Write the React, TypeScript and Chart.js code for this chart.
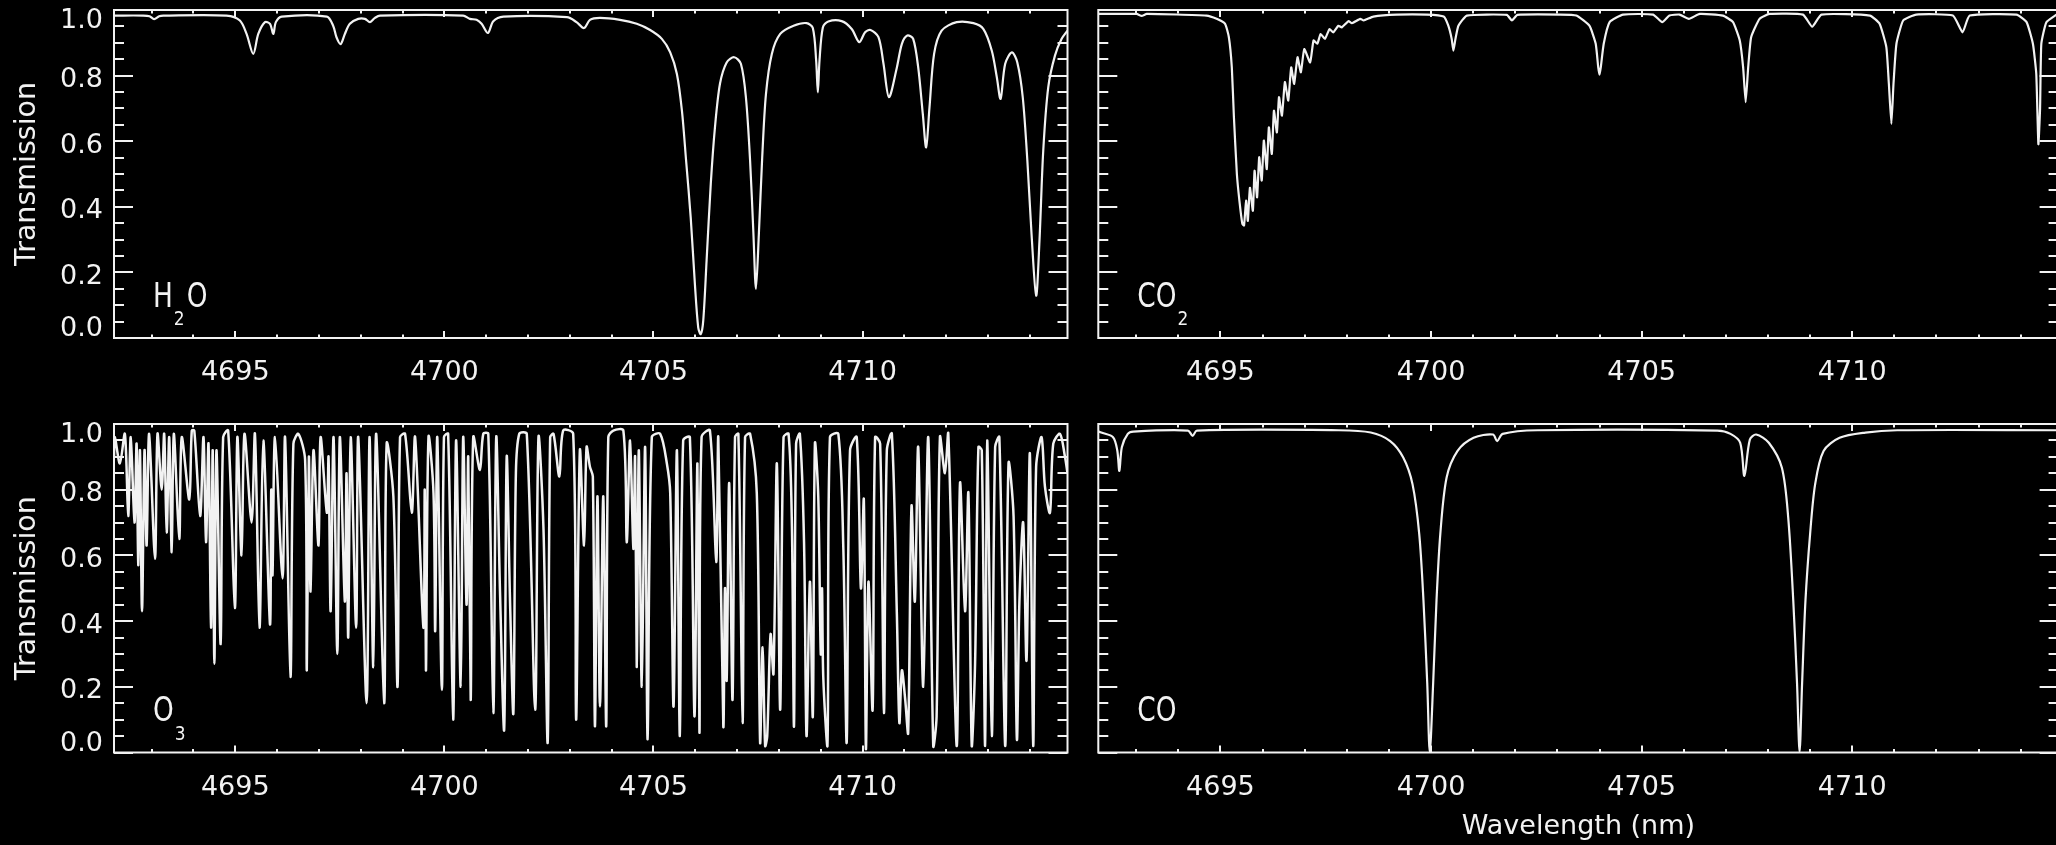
import React, { useEffect, useRef } from 'react';
import { Chart, registerables } from 'chart.js';

Chart.register(...registerables);

// ---------------- data ----------------
const X_TICKS = [4695, 4700, 4705, 4710];
const Y_TICKS = [0, 0.2, 0.4, 0.6, 0.8, 1.0];
const Y_TICK_LABELS = ['0.0', '0.2', '0.4', '0.6', '0.8', '1.0'];

const H2O_WL = [4692.10, 4692.80, 4692.95, 4693.06, 4693.18, 4693.28, 4694.79, 4695.11, 4695.27, 4695.43, 4695.55, 4695.71, 4695.83, 4695.91, 4695.97, 4696.11, 4697.19, 4697.34, 4697.42, 4697.52, 4697.62, 4697.74, 4697.94, 4698.10, 4698.22, 4698.34, 4698.46, 4700.45, 4700.61, 4700.77, 4700.89, 4701.04, 4701.17, 4701.41, 4702.93, 4703.16, 4703.34, 4703.48, 4703.72, 4704.20, 4704.60, 4704.92, 4705.20, 4705.40, 4705.56, 4705.68, 4705.78, 4705.89, 4705.99, 4706.07, 4706.13, 4706.19, 4706.27, 4706.37, 4706.47, 4706.59, 4706.75, 4706.93, 4707.09, 4707.21, 4707.31, 4707.39, 4707.45, 4707.52, 4707.60, 4707.69, 4707.83, 4708.03, 4708.35, 4708.66, 4708.81, 4708.89, 4708.93, 4708.97, 4709.05, 4709.18, 4709.50, 4709.74, 4709.92, 4710.06, 4710.19, 4710.38, 4710.50, 4710.63, 4710.82, 4710.94, 4711.07, 4711.21, 4711.33, 4711.44, 4711.52, 4711.60, 4711.71, 4711.89, 4712.25, 4712.65, 4712.89, 4713.09, 4713.21, 4713.30, 4713.41, 4713.57, 4713.70, 4713.83, 4713.94, 4714.04, 4714.15, 4714.23, 4714.32, 4714.44, 4714.60, 4714.76, 4714.90];
const H2O_T = [0.983, 0.983, 0.981, 0.972, 0.981, 0.983, 0.983, 0.968, 0.927, 0.866, 0.927, 0.963, 0.958, 0.927, 0.963, 0.980, 0.980, 0.952, 0.917, 0.896, 0.927, 0.958, 0.973, 0.973, 0.963, 0.976, 0.983, 0.983, 0.973, 0.970, 0.958, 0.930, 0.966, 0.980, 0.978, 0.963, 0.945, 0.970, 0.976, 0.970, 0.958, 0.939, 0.912, 0.871, 0.805, 0.693, 0.541, 0.368, 0.165, 0.032, 0.012, 0.053, 0.236, 0.470, 0.642, 0.775, 0.840, 0.856, 0.836, 0.734, 0.541, 0.317, 0.150, 0.317, 0.551, 0.744, 0.866, 0.927, 0.952, 0.960, 0.945, 0.846, 0.749, 0.846, 0.947, 0.965, 0.966, 0.942, 0.902, 0.932, 0.939, 0.917, 0.836, 0.734, 0.825, 0.897, 0.922, 0.912, 0.825, 0.683, 0.581, 0.703, 0.866, 0.937, 0.963, 0.960, 0.942, 0.876, 0.795, 0.729, 0.836, 0.871, 0.840, 0.734, 0.541, 0.317, 0.129, 0.297, 0.571, 0.765, 0.861, 0.912, 0.937];

const CO2_WL = [4692.10, 4693.01, 4693.13, 4693.25, 4694.67, 4694.91, 4695.11, 4695.20, 4695.27, 4695.32, 4695.39, 4695.45, 4695.52, 4695.56, 4695.61, 4695.65, 4695.70, 4695.77, 4695.81, 4695.87, 4695.92, 4695.98, 4696.03, 4696.10, 4696.15, 4696.22, 4696.27, 4696.34, 4696.39, 4696.46, 4696.53, 4696.61, 4696.68, 4696.75, 4696.83, 4696.91, 4696.99, 4697.13, 4697.21, 4697.30, 4697.38, 4697.48, 4697.59, 4697.68, 4697.80, 4697.88, 4698.04, 4698.12, 4698.32, 4698.40, 4698.63, 4699.19, 4699.90, 4700.30, 4700.41, 4700.49, 4700.53, 4700.58, 4700.65, 4700.85, 4701.80, 4701.92, 4702.05, 4703.07, 4703.45, 4703.76, 4703.91, 4703.97, 4704.00, 4704.03, 4704.10, 4704.24, 4704.56, 4705.27, 4705.49, 4705.66, 4705.90, 4706.12, 4706.38, 4706.93, 4707.17, 4707.33, 4707.41, 4707.47, 4707.53, 4707.60, 4707.80, 4708.04, 4708.83, 4709.05, 4709.27, 4710.42, 4710.65, 4710.81, 4710.87, 4710.93, 4710.98, 4711.05, 4711.21, 4711.52, 4712.39, 4712.62, 4712.79, 4713.90, 4714.14, 4714.29, 4714.37, 4714.42, 4714.46, 4714.49, 4714.61, 4714.85];
const CO2_T = [0.988, 0.988, 0.982, 0.988, 0.983, 0.973, 0.958, 0.917, 0.825, 0.673, 0.500, 0.419, 0.348, 0.343, 0.419, 0.357, 0.458, 0.388, 0.510, 0.429, 0.551, 0.480, 0.602, 0.515, 0.642, 0.561, 0.693, 0.627, 0.734, 0.678, 0.780, 0.724, 0.825, 0.775, 0.856, 0.810, 0.881, 0.840, 0.907, 0.897, 0.927, 0.912, 0.942, 0.932, 0.952, 0.947, 0.966, 0.960, 0.973, 0.968, 0.980, 0.986, 0.986, 0.980, 0.952, 0.912, 0.876, 0.912, 0.952, 0.983, 0.985, 0.968, 0.985, 0.986, 0.983, 0.952, 0.897, 0.825, 0.803, 0.825, 0.897, 0.963, 0.986, 0.986, 0.963, 0.983, 0.986, 0.973, 0.988, 0.983, 0.963, 0.907, 0.825, 0.719, 0.825, 0.917, 0.973, 0.988, 0.986, 0.949, 0.986, 0.983, 0.958, 0.887, 0.775, 0.653, 0.775, 0.897, 0.968, 0.986, 0.983, 0.932, 0.983, 0.986, 0.963, 0.897, 0.805, 0.591, 0.700, 0.897, 0.963, 0.986];

const O3_WL = [4692.10, 4692.12, 4692.24, 4692.36, 4692.44, 4692.50, 4692.59, 4692.64, 4692.68, 4692.72, 4692.77, 4692.83, 4692.88, 4692.94, 4693.08, 4693.14, 4693.24, 4693.30, 4693.36, 4693.42, 4693.48, 4693.53, 4693.66, 4693.72, 4693.90, 4693.96, 4694.02, 4694.16, 4694.24, 4694.30, 4694.36, 4694.42, 4694.46, 4694.50, 4694.55, 4694.65, 4694.71, 4694.83, 4694.99, 4695.05, 4695.15, 4695.22, 4695.39, 4695.47, 4695.58, 4695.67, 4695.83, 4695.86, 4695.89, 4695.95, 4696.13, 4696.19, 4696.32, 4696.39, 4696.51, 4696.67, 4696.71, 4696.76, 4696.80, 4696.87, 4696.99, 4697.04, 4697.19, 4697.23, 4697.28, 4697.35, 4697.44, 4697.50, 4697.62, 4697.66, 4697.70, 4697.76, 4697.89, 4697.94, 4698.14, 4698.21, 4698.30, 4698.37, 4698.56, 4698.62, 4698.78, 4698.88, 4698.94, 4699.06, 4699.22, 4699.30, 4699.50, 4699.53, 4699.56, 4699.62, 4699.74, 4699.78, 4699.83, 4699.94, 4699.99, 4700.09, 4700.21, 4700.28, 4700.39, 4700.45, 4700.53, 4700.57, 4700.63, 4700.69, 4700.85, 4700.93, 4701.05, 4701.17, 4701.24, 4701.33, 4701.43, 4701.49, 4701.57, 4701.65, 4701.71, 4701.79, 4701.97, 4702.17, 4702.25, 4702.37, 4702.47, 4702.53, 4702.61, 4702.75, 4702.84, 4703.08, 4703.15, 4703.24, 4703.34, 4703.40, 4703.48, 4703.55, 4703.60, 4703.66, 4703.72, 4703.80, 4703.87, 4703.92, 4704.04, 4704.28, 4704.36, 4704.44, 4704.52, 4704.56, 4704.60, 4704.65, 4704.72, 4704.80, 4704.86, 4704.96, 4705.16, 4705.32, 4705.40, 4705.48, 4705.56, 4705.63, 4705.71, 4705.87, 4705.98, 4706.05, 4706.10, 4706.15, 4706.35, 4706.50, 4706.55, 4706.67, 4706.71, 4706.75, 4706.81, 4706.89, 4706.95, 4707.03, 4707.13, 4707.19, 4707.31, 4707.47, 4707.55, 4707.61, 4707.67, 4707.72, 4707.80, 4707.87, 4707.95, 4708.03, 4708.11, 4708.23, 4708.31, 4708.36, 4708.41, 4708.50, 4708.60, 4708.66, 4708.74, 4708.81, 4708.86, 4708.94, 4709.00, 4709.03, 4709.06, 4709.16, 4709.22, 4709.42, 4709.54, 4709.62, 4709.70, 4709.86, 4709.96, 4710.03, 4710.08, 4710.14, 4710.24, 4710.30, 4710.42, 4710.51, 4710.58, 4710.70, 4710.82, 4710.88, 4710.94, 4711.02, 4711.09, 4711.17, 4711.25, 4711.33, 4711.45, 4711.57, 4711.69, 4711.77, 4711.85, 4711.97, 4712.05, 4712.25, 4712.33, 4712.45, 4712.53, 4712.61, 4712.69, 4712.77, 4712.85, 4712.93, 4712.98, 4713.09, 4713.17, 4713.27, 4713.41, 4713.49, 4713.61, 4713.69, 4713.75, 4713.84, 4713.92, 4714.00, 4714.08, 4714.15, 4714.28, 4714.36, 4714.48, 4714.56, 4714.72, 4714.84, 4714.90];
const O3_T = [0.90, 0.96, 0.88, 0.97, 0.72, 0.96, 0.70, 0.94, 0.57, 0.92, 0.43, 0.92, 0.63, 0.97, 0.59, 0.97, 0.80, 0.97, 0.67, 0.96, 0.61, 0.97, 0.65, 0.96, 0.77, 0.98, 0.98, 0.72, 0.96, 0.64, 0.94, 0.38, 0.92, 0.27, 0.92, 0.33, 0.96, 0.98, 0.44, 0.96, 0.60, 0.97, 0.70, 0.97, 0.38, 0.95, 0.39, 0.80, 0.54, 0.96, 0.53, 0.96, 0.23, 0.94, 0.97, 0.89, 0.25, 0.90, 0.49, 0.92, 0.63, 0.96, 0.73, 0.90, 0.43, 0.96, 0.30, 0.96, 0.46, 0.85, 0.35, 0.96, 0.38, 0.96, 0.15, 0.96, 0.26, 0.97, 0.15, 0.94, 0.78, 0.20, 0.96, 0.97, 0.73, 0.96, 0.38, 0.80, 0.25, 0.96, 0.79, 0.37, 0.96, 0.19, 0.96, 0.97, 0.10, 0.95, 0.20, 0.96, 0.45, 0.90, 0.16, 0.96, 0.86, 0.97, 0.97, 0.12, 0.96, 0.49, 0.07, 0.90, 0.46, 0.12, 0.85, 0.97, 0.97, 0.13, 0.96, 0.68, 0.03, 0.96, 0.97, 0.84, 0.98, 0.97, 0.10, 0.92, 0.63, 0.93, 0.87, 0.84, 0.08, 0.78, 0.14, 0.78, 0.08, 0.96, 0.98, 0.98, 0.64, 0.95, 0.62, 0.90, 0.26, 0.92, 0.20, 0.93, 0.04, 0.96, 0.97, 0.88, 0.79, 0.14, 0.92, 0.05, 0.95, 0.96, 0.11, 0.88, 0.06, 0.96, 0.98, 0.58, 0.96, 0.08, 0.50, 0.22, 0.82, 0.16, 0.96, 0.97, 0.09, 0.96, 0.97, 0.79, 0.03, 0.32, 0.02, 0.05, 0.36, 0.24, 0.88, 0.13, 0.96, 0.97, 0.69, 0.08, 0.94, 0.97, 0.64, 0.05, 0.52, 0.11, 0.94, 0.78, 0.30, 0.50, 0.23, 0.02, 0.96, 0.97, 0.62, 0.03, 0.92, 0.96, 0.50, 0.77, 0.01, 0.52, 0.13, 0.96, 0.94, 0.12, 0.92, 0.97, 0.42, 0.09, 0.25, 0.16, 0.06, 0.75, 0.46, 0.93, 0.20, 0.96, 0.02, 0.11, 0.96, 0.85, 0.97, 0.02, 0.82, 0.43, 0.79, 0.02, 0.27, 0.93, 0.92, 0.02, 0.95, 0.05, 0.93, 0.96, 0.02, 0.88, 0.72, 0.04, 0.46, 0.70, 0.28, 0.91, 0.02, 0.87, 0.96, 0.81, 0.73, 0.94, 0.97, 0.90, 0.85];

const CO_WL = [4692.10, 4692.17, 4692.45, 4692.55, 4692.60, 4692.66, 4692.80, 4692.93, 4694.23, 4694.34, 4694.44, 4697.81, 4698.57, 4699.03, 4699.34, 4699.56, 4699.72, 4699.82, 4699.91, 4699.97, 4700.05, 4700.13, 4700.22, 4700.37, 4700.63, 4701.01, 4701.47, 4701.57, 4701.70, 4702.53, 4706.80, 4707.11, 4707.34, 4707.44, 4707.57, 4707.72, 4708.02, 4708.33, 4708.48, 4708.60, 4708.69, 4708.75, 4708.81, 4708.89, 4709.00, 4709.12, 4709.32, 4709.70, 4710.31, 4711.07, 4714.90];
const CO_T = [0.978, 0.974, 0.960, 0.920, 0.857, 0.930, 0.970, 0.977, 0.980, 0.964, 0.980, 0.981, 0.974, 0.948, 0.898, 0.817, 0.665, 0.463, 0.210, 0.002, 0.210, 0.463, 0.665, 0.837, 0.918, 0.958, 0.968, 0.948, 0.970, 0.981, 0.980, 0.970, 0.943, 0.842, 0.953, 0.968, 0.943, 0.867, 0.716, 0.463, 0.210, 0.002, 0.210, 0.463, 0.665, 0.817, 0.918, 0.958, 0.974, 0.981, 0.981];

// ---------------- styling ----------------
const FG = '#f2f2f2';
const FONT = "'DejaVu Sans', 'Liberation Sans', sans-serif";
const X_MIN = 4692.1;
const X_MAX = 4714.9;

type Seg = { t: string; sub?: boolean };

const framePlugin = {
  id: 'idlFrame',
  afterDatasetsDraw(chart: any, _args: any, opts: any) {
    const { ctx, chartArea: a } = chart;
    const xs = chart.scales.x;
    const ys = chart.scales.y;
    ctx.save();
    ctx.strokeStyle = FG;
    ctx.fillStyle = FG;
    ctx.lineWidth = 2;
    ctx.strokeRect(a.left, a.top, a.right - a.left, a.bottom - a.top);
    ctx.beginPath();
    for (let v = Math.ceil(xs.min); v <= Math.floor(xs.max); v++) {
      const px = Math.round(xs.getPixelForValue(v));
      const len = v % 5 === 0 ? 7 : 3.5;
      ctx.moveTo(px, a.bottom);
      ctx.lineTo(px, a.bottom - len);
      ctx.moveTo(px, a.top);
      ctx.lineTo(px, a.top + len);
    }
    for (let i = 0; i <= 20; i++) {
      const py = Math.round(ys.getPixelForValue(i / 20));
      const len = i % 4 === 0 ? 19 : 10;
      ctx.moveTo(a.left, py);
      ctx.lineTo(a.left + len, py);
      ctx.moveTo(a.right, py);
      ctx.lineTo(a.right - len, py);
    }
    ctx.stroke();

    if (opts.yLabels) {
      ctx.font = `27px ${FONT}`;
      ctx.textAlign = 'right';
      ctx.textBaseline = 'middle';
      Y_TICKS.forEach((v, i) => {
        const py = ys.getPixelForValue(v);
        const shift = v >= 1 ? 11 : v <= 0 ? -9 : 4.5;
        ctx.fillText(Y_TICK_LABELS[i], a.left - 11, py + shift);
      });
    }

    const segs: Seg[] = opts.label || [];
    let cx = a.left + 39;
    const base = a.bottom - 31.5;
    ctx.textAlign = 'left';
    ctx.textBaseline = 'alphabetic';
    for (const s of segs) {
      const size = s.sub ? 20 : 33;
      ctx.font = `${size}px ${FONT}`;
      const sx = s.sub ? 0.85 : 0.8;
      const w = ctx.measureText(s.t).width * sx;
      if (s.sub) cx += 1;
      ctx.save();
      ctx.translate(cx, s.sub ? base + 18.5 : base);
      ctx.scale(sx, 1);
      ctx.fillText(s.t, 0, 0);
      ctx.restore();
      cx += w + (s.sub ? 2 : 0);
    }
    ctx.restore();
  },
};

type Panel = {
  wl: number[];
  tr: number[];
  label: Seg[];
  left: number;
  top: number;
  w: number;
  h: number;
  pad: { left: number; right: number; top: number; bottom: number };
  xh: number;
  showY: boolean;
  xTitle: boolean;
  lw: number;
  tension: number;
};

const PANELS: Panel[] = [
  { wl: H2O_WL, tr: H2O_T, label: [{ t: 'H' }, { t: '2', sub: true }, { t: 'O' }], left: 0, top: 0, w: 1080, h: 410, pad: { left: 0, right: 12.5, top: 10, bottom: 0 }, xh: 72, showY: true, xTitle: false, lw: 2.2, tension: 0.3 },
  { wl: CO2_WL, tr: CO2_T, label: [{ t: 'CO' }, { t: '2', sub: true }], left: 1080, top: 0, w: 990, h: 410, pad: { left: 18.3, right: 11.4, top: 10, bottom: 0 }, xh: 72, showY: false, xTitle: false, lw: 2.2, tension: 0.15 },
  { wl: O3_WL, tr: O3_T, label: [{ t: 'O' }, { t: '3', sub: true }], left: 0, top: 414, w: 1080, h: 431, pad: { left: 0, right: 12.5, top: 10, bottom: 0 }, xh: 92.5, showY: true, xTitle: false, lw: 2.5, tension: 0.3 },
  { wl: CO_WL, tr: CO_T, label: [{ t: 'CO' }], left: 1080, top: 414, w: 990, h: 431, pad: { left: 18.3, right: 11.4, top: 10, bottom: 0 }, xh: 92.5, showY: false, xTitle: true, lw: 2.2, tension: 0.3 },
];

function PanelChart({ p }: { p: Panel }) {
  const ref = useRef<HTMLCanvasElement | null>(null);
  useEffect(() => {
    if (!ref.current) return;
    const data = p.wl.map((x, i) => ({ x, y: p.tr[i] }));
    const chart = new Chart(ref.current, {
      type: 'line',
      data: {
        datasets: [
          {
            data,
            borderColor: FG,
            borderWidth: p.lw,
            pointRadius: 0,
            tension: p.tension,
            fill: false,
            borderJoinStyle: 'round',
          } as any,
        ],
      },
      options: {
        responsive: false,
        animation: false,
        devicePixelRatio: 1,
        events: [],
        layout: { padding: p.pad },
        plugins: {
          legend: { display: false },
          tooltip: { enabled: false },
          idlFrame: { yLabels: p.showY, label: p.label },
        } as any,
        scales: {
          x: {
            type: 'linear',
            min: X_MIN,
            max: X_MAX,
            position: 'bottom',
            afterBuildTicks: (s: any) => {
              s.ticks = X_TICKS.map((v) => ({ value: v }));
            },
            afterFit: (s: any) => {
              s.height = p.xh;
            },
            grid: { display: false, drawTicks: false },
            border: { display: false },
            ticks: {
              color: FG,
              font: { family: FONT, size: 27 },
              padding: 19,
              maxRotation: 0,
              autoSkip: false,
              callback: (v: any) => String(v),
            },
            title: {
              display: p.xTitle,
              text: 'Wavelength (nm)',
              color: FG,
              font: { family: FONT, size: 27 },
              padding: { top: 0, bottom: 2 },
            },
          },
          y: {
            type: 'linear',
            min: 0,
            max: 1,
            display: p.showY,
            afterFit: (s: any) => {
              s.width = p.showY ? 114 : 0;
            },
            grid: { display: false, drawTicks: false },
            border: { display: false },
            ticks: { display: false },
            title: {
              display: true,
              text: 'Transmission',
              color: FG,
              font: { family: FONT, size: 28.5 },
              padding: { top: 10, bottom: 0 },
            },
          },
        },
      } as any,
      plugins: [framePlugin],
    });
    return () => chart.destroy();
  }, [p]);
  return (
    <canvas
      ref={ref}
      width={p.w}
      height={p.h}
      style={{ position: 'absolute', left: p.left, top: p.top, width: p.w, height: p.h }}
    />
  );
}

export default function App() {
  return (
    <div
      style={{
        position: 'fixed',
        left: 0,
        top: 0,
        width: 2056,
        height: 845,
        background: '#000',
        overflow: 'hidden',
      }}
    >
      {PANELS.map((p, i) => (
        <PanelChart key={i} p={p} />
      ))}
    </div>
  );
}
